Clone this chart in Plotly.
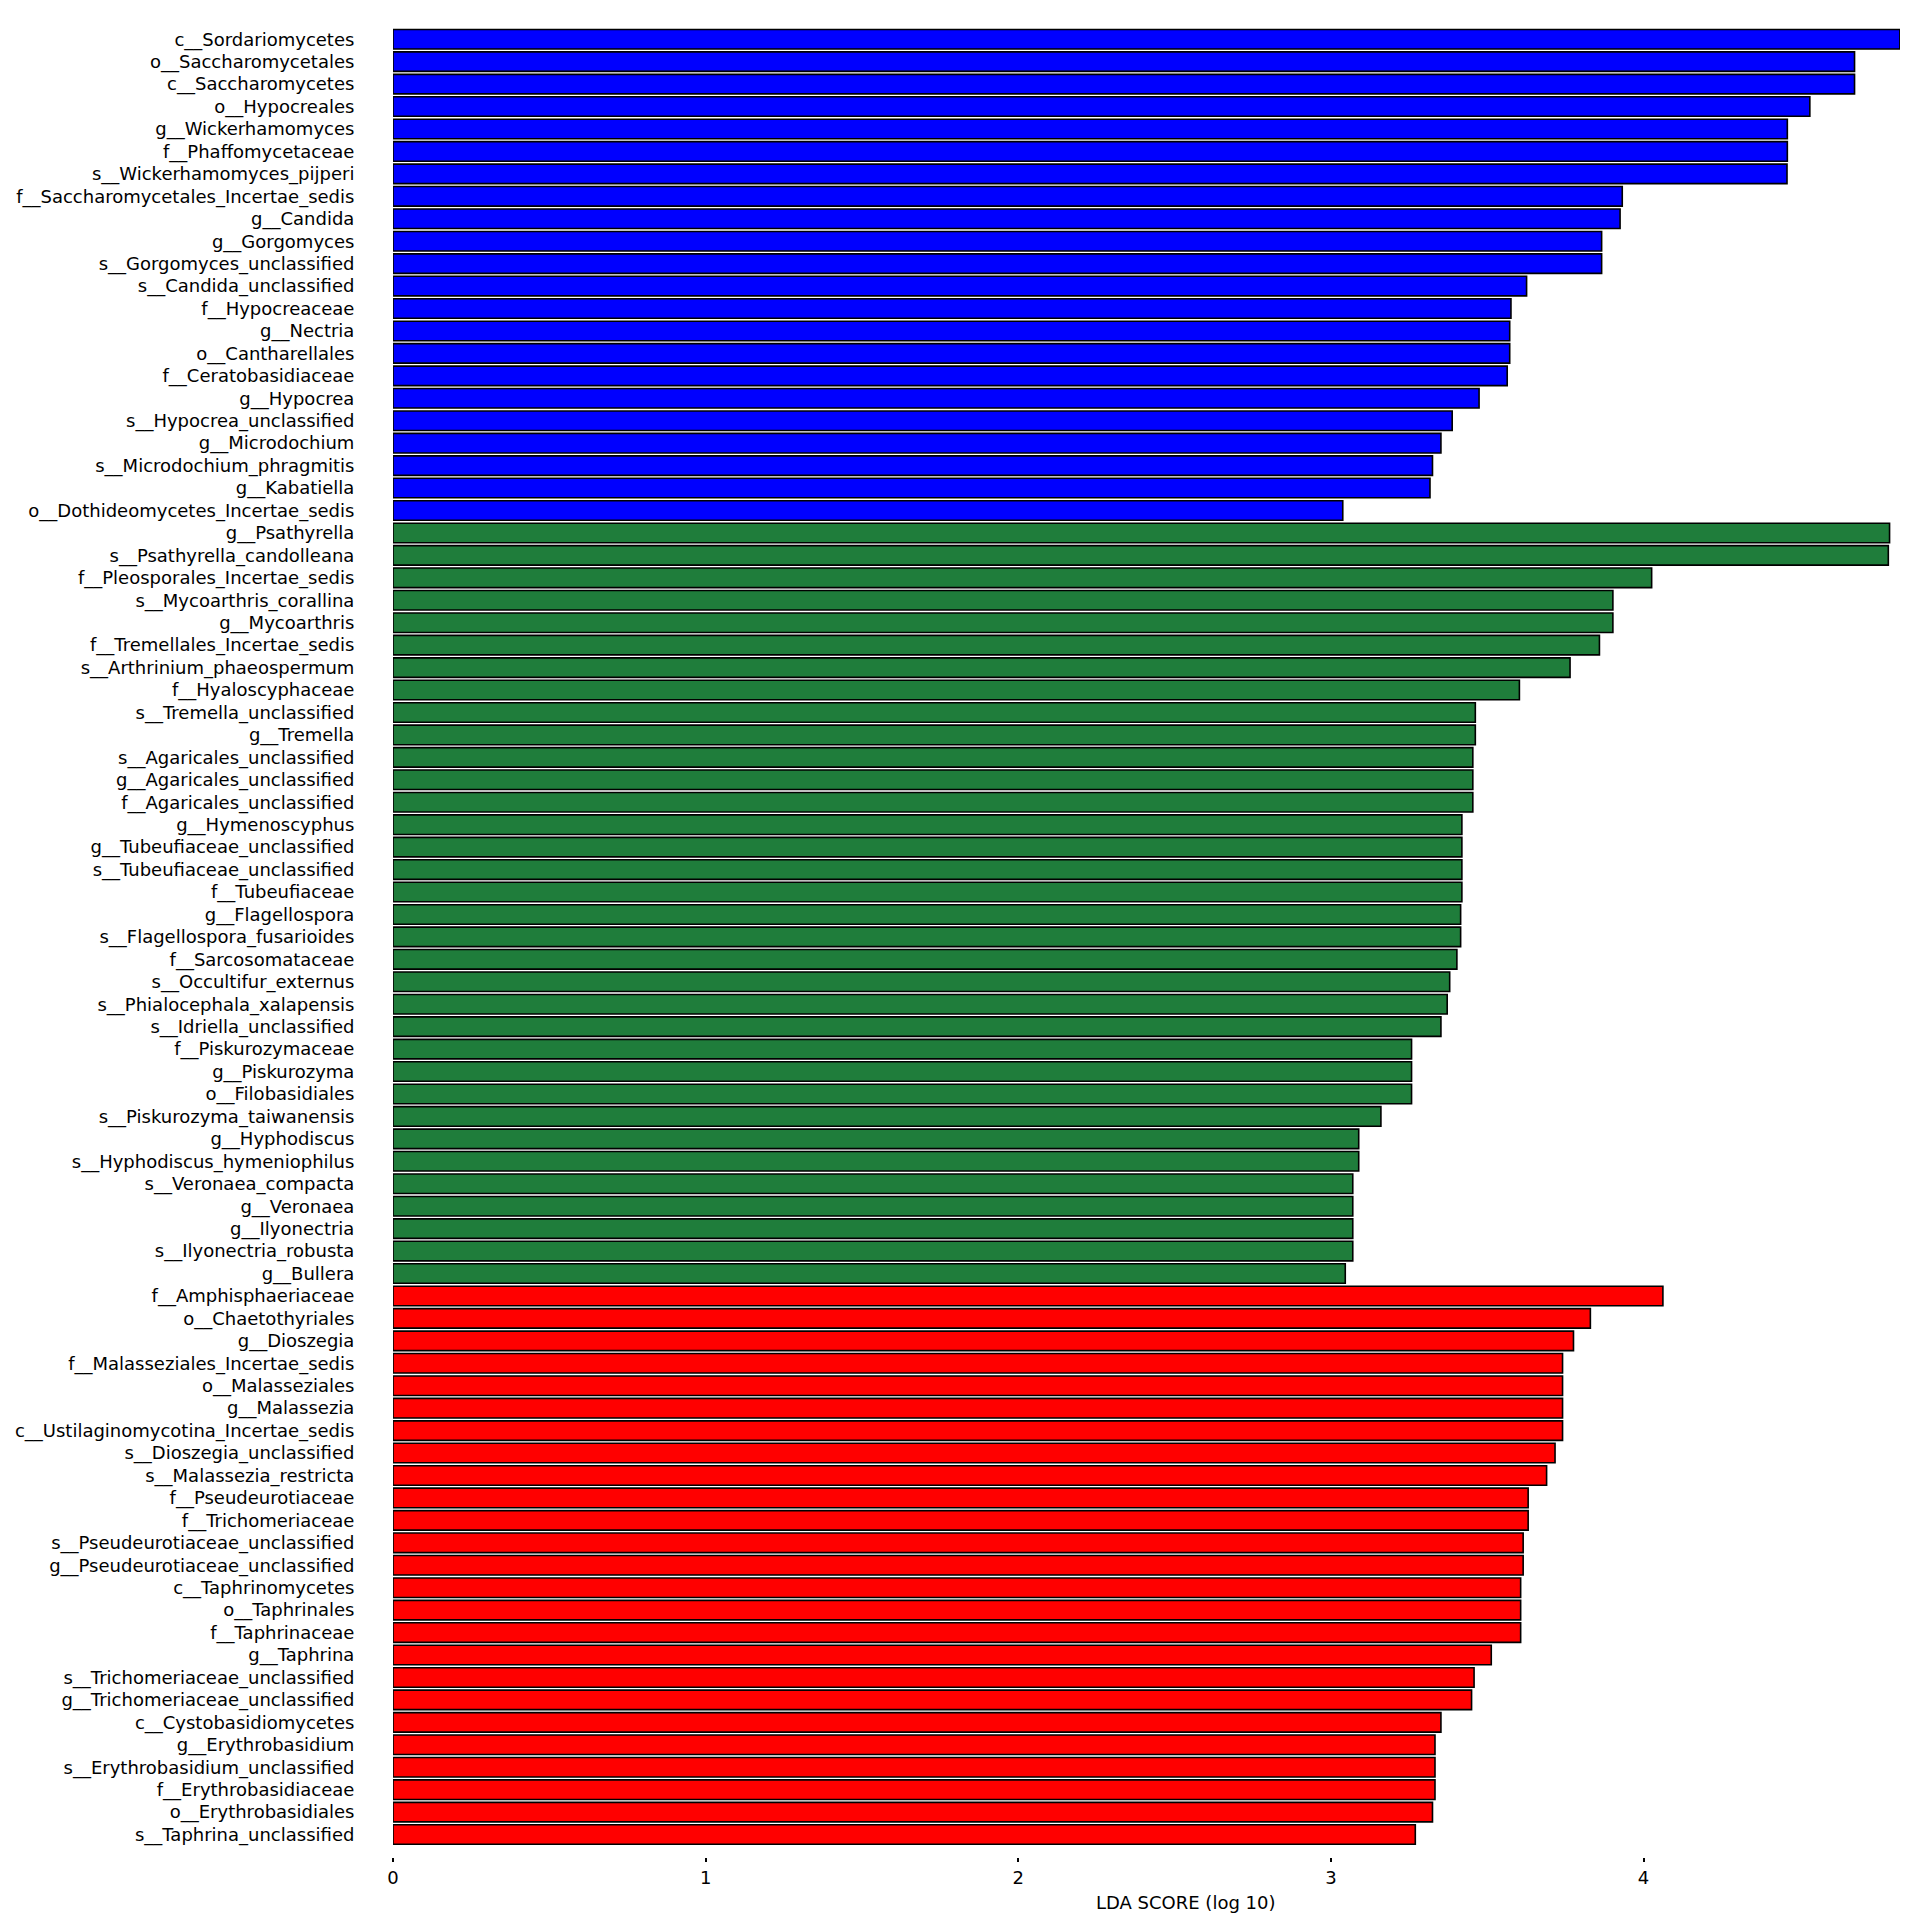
import plotly.graph_objects as go

blue_labels = [
    "c__Sordariomycetes", "o__Saccharomycetales", "c__Saccharomycetes", "o__Hypocreales",
    "g__Wickerhamomyces", "f__Phaffomycetaceae", "s__Wickerhamomyces_pijperi",
    "f__Saccharomycetales_Incertae_sedis", "g__Candida", "g__Gorgomyces",
    "s__Gorgomyces_unclassified", "s__Candida_unclassified", "f__Hypocreaceae", "g__Nectria",
    "o__Cantharellales", "f__Ceratobasidiaceae", "g__Hypocrea", "s__Hypocrea_unclassified",
    "g__Microdochium", "s__Microdochium_phragmitis", "g__Kabatiella",
    "o__Dothideomycetes_Incertae_sedis",
]
blue_values = [4.82, 4.675, 4.675, 4.532, 4.46, 4.46, 4.459, 3.932, 3.925, 3.866, 3.866,
               3.626, 3.576, 3.572, 3.572, 3.564, 3.474, 3.388, 3.352, 3.325, 3.317, 3.038]

green_labels = [
    "g__Psathyrella", "s__Psathyrella_candolleana", "f__Pleosporales_Incertae_sedis",
    "s__Mycoarthris_corallina", "g__Mycoarthris", "f__Tremellales_Incertae_sedis",
    "s__Arthrinium_phaeospermum", "f__Hyaloscyphaceae", "s__Tremella_unclassified",
    "g__Tremella", "s__Agaricales_unclassified", "g__Agaricales_unclassified",
    "f__Agaricales_unclassified", "g__Hymenoscyphus", "g__Tubeufiaceae_unclassified",
    "s__Tubeufiaceae_unclassified", "f__Tubeufiaceae", "g__Flagellospora",
    "s__Flagellospora_fusarioides", "f__Sarcosomataceae", "s__Occultifur_externus",
    "s__Phialocephala_xalapensis", "s__Idriella_unclassified", "f__Piskurozymaceae",
    "g__Piskurozyma", "o__Filobasidiales", "s__Piskurozyma_taiwanensis", "g__Hyphodiscus",
    "s__Hyphodiscus_hymeniophilus", "s__Veronaea_compacta", "g__Veronaea", "g__Ilyonectria",
    "s__Ilyonectria_robusta", "g__Bullera",
]
green_values = [4.787, 4.783, 4.026, 3.902, 3.902, 3.859, 3.765, 3.603, 3.462, 3.462, 3.454,
                3.454, 3.454, 3.419, 3.419, 3.419, 3.419, 3.415, 3.415, 3.403, 3.38, 3.372,
                3.352, 3.258, 3.258, 3.258, 3.16, 3.089, 3.089, 3.07, 3.07, 3.07, 3.07, 3.046]

red_labels = [
    "f__Amphisphaeriaceae", "o__Chaetothyriales", "g__Dioszegia",
    "f__Malasseziales_Incertae_sedis", "o__Malasseziales", "g__Malassezia",
    "c__Ustilaginomycotina_Incertae_sedis", "s__Dioszegia_unclassified",
    "s__Malassezia_restricta", "f__Pseudeurotiaceae", "f__Trichomeriaceae",
    "s__Pseudeurotiaceae_unclassified", "g__Pseudeurotiaceae_unclassified",
    "c__Taphrinomycetes", "o__Taphrinales", "f__Taphrinaceae", "g__Taphrina",
    "s__Trichomeriaceae_unclassified", "g__Trichomeriaceae_unclassified",
    "c__Cystobasidiomycetes", "g__Erythrobasidium", "s__Erythrobasidium_unclassified",
    "f__Erythrobasidiaceae", "o__Erythrobasidiales", "s__Taphrina_unclassified",
]
red_values = [4.062, 3.83, 3.776, 3.741, 3.741, 3.741, 3.741, 3.717, 3.69, 3.631, 3.631,
              3.615, 3.615, 3.607, 3.607, 3.607, 3.513, 3.458, 3.45, 3.352, 3.333, 3.333,
              3.333, 3.325, 3.27]

x_ticks = [0, 1, 2, 3, 4]
x_title = "LDA SCORE (log 10)"

groups = [
    (blue_labels, blue_values, "#0000FF"),
    (green_labels, green_values, "#1F7D3B"),
    (red_labels, red_values, "#FF0000"),
]

all_labels = blue_labels + green_labels + red_labels

fig = go.Figure()
for labels, values, color in groups:
    fig.add_trace(go.Bar(
        x=values, y=labels, orientation="h",
        marker=dict(color=color, line=dict(color="#000000", width=1.6)),
        showlegend=False,
    ))

W, H = 1900, 1913
L, R, T, B = 385, 5, 20, 64

fig.update_layout(
    width=W, height=H,
    margin=dict(l=L, r=R, t=T, b=B, pad=0),
    paper_bgcolor="white", plot_bgcolor="white",
    bargap=0.13,
    font=dict(family="DejaVu Sans", size=18, color="black"),
    xaxis=dict(
        range=[0, 4.83], tickvals=x_ticks, ticktext=[str(t) for t in x_ticks],
        showgrid=False, zeroline=False, showline=False,
        ticks="outside", ticklen=4, tickwidth=2, tickcolor="black",
        tickfont=dict(family="DejaVu Sans", size=18, color="black"),
    ),
    yaxis=dict(
        type="category", categoryorder="array", categoryarray=all_labels,
        range=[len(all_labels), -0.5],
        showgrid=False, zeroline=False, showline=False,
        ticks="outside", ticklen=34, tickcolor="rgba(0,0,0,0)",
        tickfont=dict(family="DejaVu Sans", size=18, color="black"),
    ),
    annotations=[dict(
        text=x_title, xref="paper", yref="paper",
        x=(1177 - L) / (W - L - R), y=-(1894 - (H - B)) / (H - T - B),
        xanchor="center", yanchor="middle", showarrow=False,
        font=dict(family="DejaVu Sans", size=18, color="black"),
    )],
)

fig.write_html("out.html")
